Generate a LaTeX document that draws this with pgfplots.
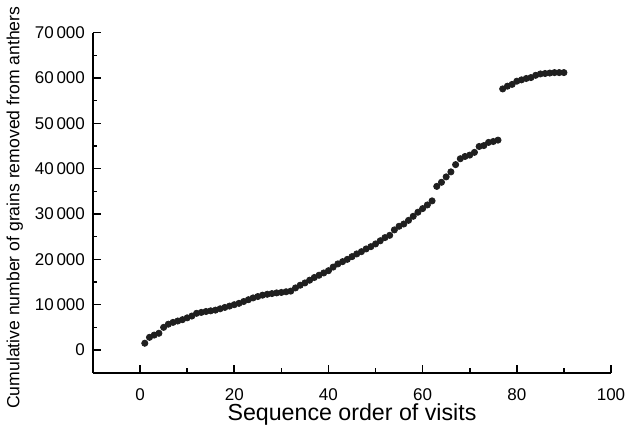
\documentclass[border=0pt]{standalone}
\usepackage{pgfplots}
\pgfplotsset{compat=1.18}
\usepackage{fontspec}
\setmainfont{Liberation Sans}

\begin{document}
\begin{tikzpicture}
\begin{axis}[
    scale only axis,
    width=259pt,
    height=170pt,
    xmin=-10, xmax=100,
    ymin=-5000, ymax=70000,
    axis lines*=left,
    axis line style={line width=0.9pt},
    tick align=inside,
    xtick={0,20,40,60,80,100},
    minor xtick={10,30,50,70,90},
    ytick={0,10000,...,70000},
    minor ytick={5000,15000,...,65000},
    major tick length=4pt,
    minor tick length=2.2pt,
    tick style={line width=0.8pt, black},
    /pgf/number format/1000 sep={\,},
    /pgf/number format/assume math mode=true,
    scaled y ticks=false,
    tick label style={font=\fontsize{8.5}{10}\selectfont},
    xticklabel style={yshift=-4.2pt},
    yticklabel style={xshift=-0.5pt},
    xlabel={Sequence order of visits},
    ylabel={Cumulative number of grains removed from anthers},
    xlabel style={font=\fontsize{11.6}{13}\selectfont, yshift=5.2pt, name=xl},
    ylabel style={font=\fontsize{8.8}{10}\selectfont, yshift=-1pt, xshift=-2.5pt},
    clip=false
]
\addplot[only marks, mark=*, mark size=1.55pt, color=black!88] coordinates {
(1,1500) (2,2800) (3,3300) (4,3700) (5,5000) (6,5700) (7,6100) (8,6400)
(9,6700) (10,7100) (11,7500) (12,8100) (13,8300) (14,8500) (15,8650)
(16,8800) (17,9100) (18,9400) (19,9700) (20,10000) (21,10300) (22,10700)
(23,11100) (24,11500) (25,11800) (26,12100) (27,12300) (28,12450)
(29,12600) (30,12700) (31,12850) (32,13000) (33,13700) (34,14300)
(35,14800) (36,15400) (37,16000) (38,16500) (39,17000) (40,17500)
(41,18300) (42,19000) (43,19500) (44,20000) (45,20600) (46,21200)
(47,21700) (48,22300) (49,22800) (50,23400) (51,24100) (52,24800)
(53,25300) (54,26500) (55,27300) (56,27800) (57,28600) (58,29500)
(59,30400) (60,31200) (61,32000) (62,32900) (63,36100) (64,37000)
(65,38200) (66,39300) (67,40900) (68,42200) (69,42700) (70,43000)
(71,43600) (72,44900) (73,45100) (74,45800) (75,46000) (76,46300)
(77,57600) (78,58200) (79,58600) (80,59300) (81,59600) (82,59900)
(83,60100) (84,60600) (85,60900) (86,61000) (87,61100) (88,61200)
(89,61200) (90,61200)
};
\end{axis}
\path (xl.south) ++(0,-3.7pt) coordinate (bottomgap);
\path (current axis.south east) ++(11pt,0) coordinate (rightgap);
\end{tikzpicture}
\end{document}
